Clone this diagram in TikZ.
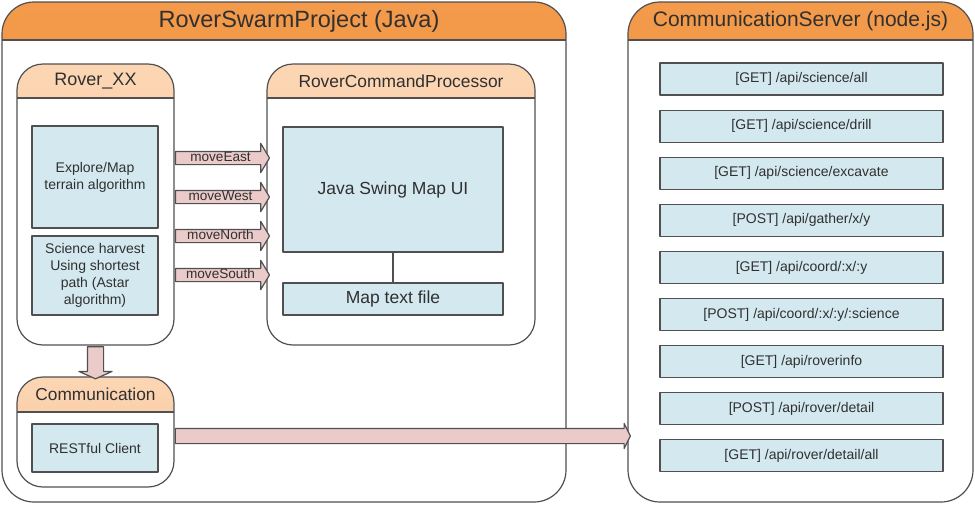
\documentclass[tikz,border=0pt]{standalone}
\usepackage{fontspec}
\setmainfont{Liberation Sans}
\usetikzlibrary{shapes.arrows}
\definecolor{linegray}{HTML}{505050}
\definecolor{textgray}{HTML}{303030}
\definecolor{hdrtop}{HTML}{F39A4B}
\definecolor{hdrbot}{HTML}{EE8434}
\definecolor{subtop}{HTML}{FCD6B4}
\definecolor{subbot}{HTML}{F9C49A}
\definecolor{boxblue}{HTML}{D3E9EF}
\definecolor{arrowpink}{HTML}{EBCACA}
\newcommand{\hdrline}[2]{%
  \draw[linegray, line width=1.2pt] ([yshift=-#2pt]#1.north west) -- ([yshift=-#2pt]#1.north east);}
\newcommand{\fsz}[1]{\fontsize{#1}{17}\selectfont}

\begin{document}
\begin{tikzpicture}[x=1pt, y=-1pt, line join=round,
  every node/.style={text=textgray},
  panel/.style={draw=linegray, line width=1.2pt, fill=white, anchor=north west, inner sep=0pt, outer sep=0pt},
  bigpanel/.style={panel, rounded corners=32pt, path picture={\shade[sharp corners, top color=hdrtop, bottom color=hdrbot] (path picture bounding box.north west) rectangle ([yshift=-38pt]path picture bounding box.north east);}},
  subpanel/.style={panel, rounded corners=26pt, path picture={\shade[sharp corners, top color=subtop, bottom color=subbot] (path picture bounding box.north west) rectangle ([yshift=-34pt]path picture bounding box.north east);}},
  bluebox/.style={draw=linegray, line width=1.2pt, fill=boxblue, inner sep=0pt, outer sep=0pt, align=center, font=\fsz{14}},
  fatarrow/.style={single arrow, draw=linegray, line width=1.2pt, fill=arrowpink, inner sep=0pt, outer sep=0pt},
  cmdarrow/.style={fatarrow, single arrow head extend=8pt, single arrow tip angle=118, minimum height=94pt, text height=9.5pt, text depth=2.5pt, font=\fsz{13.6}}]

  \useasboundingbox (0,0) rectangle (975,504);

  %% outer containers
  \node[bigpanel, minimum width=564pt, minimum height=500pt] (rsp) at (2,2) {};
  \hdrline{rsp}{38}
  \node[font=\fsz{23.5}] (rsptitle) at ([xshift=15pt, yshift=-19.5pt]rsp.north) {RoverSwarmProject (Java)};

  \node[bigpanel, minimum width=345pt, minimum height=500pt] (srv) at (628,2) {};
  \hdrline{srv}{38}
  \node[font=\fsz{21}] (srvtitle) at ([yshift=-19.5pt]srv.north) {CommunicationServer (node.js)};

  %% Rover_XX
  \node[subpanel, minimum width=157pt, minimum height=281pt] (rover) at (17,64) {};
  \hdrline{rover}{34}
  \node[font=\fsz{18}] (rovertitle) at ([yshift=-17pt]rover.north) {Rover\_XX};
  \node[bluebox, minimum width=126pt, minimum height=102pt] (explore) at (95,177) {Explore/Map\\terrain algorithm};
  \node[bluebox, minimum width=126pt, minimum height=79pt] (science) at (95,275.5) {Science harvest\\Using shortest\\path (Astar\\algorithm)};

  %% RoverCommandProcessor
  \node[subpanel, minimum width=268pt, minimum height=281pt] (rcp) at (267,64) {};
  \hdrline{rcp}{34}
  \node[font=\fsz{17.4}] (rcptitle) at ([yshift=-17pt]rcp.north) {RoverCommandProcessor};
  \node[bluebox, minimum width=220pt, minimum height=125pt, font=\fsz{17.5}] (swing) at (393,189.5) {Java Swing Map UI};
  \node[bluebox, minimum width=220pt, minimum height=32pt, font=\fsz{17.5}] (mapfile) at (393,299) {Map text file};
  \draw[linegray, line width=1.2pt] (swing) -- (mapfile);

  %% Communication
  \node[subpanel, minimum width=157pt, minimum height=110pt] (comm) at (17,377) {};
  \hdrline{comm}{35}
  \node[font=\fsz{17.3}] (commtitle) at ([yshift=-17.5pt]comm.north) {Communication};
  \node[bluebox, minimum width=126pt, minimum height=48pt] (rest) at (95,448) {RESTful Client};

  %% commands
  \path (rover.east |- 0,158) -- (rcp.west |- 0,158) node[cmdarrow, midway] (east) {moveEast};
  \path (rover.east |- 0,197) -- (rcp.west |- 0,197) node[cmdarrow, midway] (west) {moveWest};
  \path (rover.east |- 0,236) -- (rcp.west |- 0,236) node[cmdarrow, midway] (north) {moveNorth};
  \path (rover.east |- 0,275) -- (rcp.west |- 0,275) node[cmdarrow, midway] (south) {moveSouth};

  \path (rover.south) -- (comm.north) node[fatarrow, midway, rotate=-90, minimum height=32pt, text height=15pt, text depth=0pt, single arrow head extend=8.5pt, single arrow tip angle=132] (tocomm) {};
  \path (comm.east |- 0,436) -- (srv.west |- 0,436) node[fatarrow, midway, minimum height=455pt, text height=14pt, text depth=0pt, single arrow head extend=5pt, single arrow tip angle=127] (toserver) {};

  %% api list
  \foreach \lbl [count=\i from 0] in {{[GET] /api/science/all}, {[GET] /api/science/drill},
      {[GET] /api/science/excavate}, {[POST] /api/gather/x/y}, {[GET] /api/coord/:x/:y},
      {[POST] /api/coord/:x/:y/:science}, {[GET] /api/roverinfo}, {[POST] /api/rover/detail},
      {[GET] /api/rover/detail/all}}
    \node[bluebox, minimum width=283pt, minimum height=32pt] (api\i) at (801.5,{79+47.1*\i}) {\lbl};

\end{tikzpicture}
\end{document}
